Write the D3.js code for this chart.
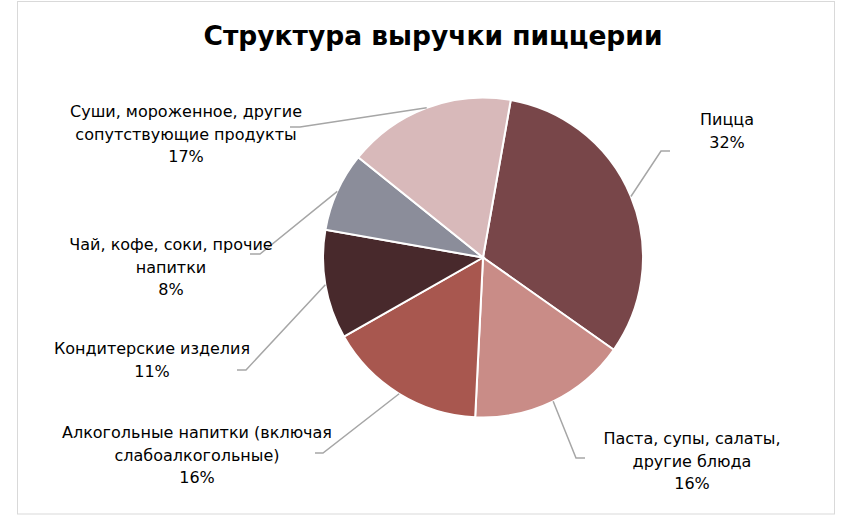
<!DOCTYPE html>
<html>
<head>
<meta charset="utf-8">
<script src="https://cdn.jsdelivr.net/npm/d3@7"></script>
<style>
  body { margin: 0; background: #fff; }
  text { font-family: "DejaVu Sans", sans-serif; }
</style>
</head>
<body>
<div id="chart"></div>
<script>
// data
const categories = [
  "Пицца",
  "Паста, супы, салаты, другие блюда",
  "Алкогольные напитки (включая слабоалкогольные)",
  "Кондитерские изделия",
  "Чай, кофе, соки, прочие напитки",
  "Суши, мороженное, другие сопутствующие продукты"
];
const shares = [32, 16, 16, 11, 8, 17];
// how the label text is broken into lines
const labelLines = [
  ["Пицца"],
  ["Паста, супы, салаты,", "другие блюда"],
  ["Алкогольные напитки (включая", "слабоалкогольные)"],
  ["Кондитерские изделия"],
  ["Чай, кофе, соки, прочие", "напитки"],
  ["Суши, мороженное, другие", "сопутствующие продукты"]
];
const colors = ["#784649", "#C98C87", "#A8574F", "#48292C", "#8B8D9A", "#D8B9BA"];

// label placement: text centre x, first baseline y, elbow of leader, end of leader
const labelPos = [
  {x: 727, y: 125, ex: 661, ey: 151, tx: 670},
  {x: 692, y: 444, ex: 576, ey: 458, tx: 585},
  {x: 197, y: 438, ex: 323, ey: 453, tx: 315},
  {x: 152, y: 354, ex: 246, ey: 370, tx: 237},
  {x: 171, y: 250, ex: 260, ey: 254, tx: 250},
  {x: 186, y: 117, ex: 300, ey: 127, tx: 290}
];

const width = 862, height = 516,
    cx = 483, cy = 257.5,
    radius = 160,
    lineH = 22.5;

const svg = d3.select("#chart")
  .append("svg")
    .attr("width", width)
    .attr("height", height);

// chart frame
svg.append("rect")
    .attr("x", 17.5).attr("y", 1.5)
    .attr("width", 817).attr("height", 512.5)
    .attr("fill", "#fff")
    .attr("stroke", "#D9D9D9")
    .attr("stroke-width", 1);

svg.append("text")
    .attr("x", 433)
    .attr("y", 45)
    .attr("text-anchor", "middle")
    .attr("font-weight", "bold")
    .attr("font-size", 26.5)
    .attr("fill", "#000")
    .text("Структура выручки пиццерии");

const data = categories.map((c, i) => ({name: c, value: shares[i], lines: labelLines[i], color: colors[i], pos: labelPos[i]}));

const startAngle = 10 * Math.PI / 180;
const pie = d3.pie()
    .value(d => d.value)
    .sort(null)
    .startAngle(startAngle)
    .endAngle(startAngle + 2 * Math.PI);

const arcs = pie(data);

const arc = d3.arc()
    .innerRadius(0)
    .outerRadius(radius);

const g = svg.append("g")
    .attr("transform", `translate(${cx},${cy})`);

g.selectAll("path")
  .data(arcs)
  .join("path")
    .attr("d", arc)
    .attr("fill", d => d.data.color)
    .attr("stroke", "#fff")
    .attr("stroke-width", 2);

// leader lines from the slice edge to the label
const edge = d3.arc().innerRadius(radius).outerRadius(radius);
svg.append("g")
  .selectAll("polyline")
  .data(arcs)
  .join("polyline")
    .attr("points", d => {
      const c = edge.centroid(d);
      const p = d.data.pos;
      return [[cx + c[0], cy + c[1]], [p.ex, p.ey], [p.tx, p.ey]].map(q => q.join(",")).join(" ");
    })
    .attr("fill", "none")
    .attr("stroke", "#A6A6A6")
    .attr("stroke-width", 1.5);

// labels
const lab = svg.append("g")
  .selectAll("text")
  .data(arcs)
  .join("text")
    .attr("text-anchor", "middle")
    .attr("font-size", 16)
    .attr("fill", "#000");

lab.each(function(d) {
  const t = d3.select(this);
  const p = d.data.pos;
  const rows = d.data.lines.concat([d3.format(".0%")(d.data.value / d3.sum(shares))]);
  rows.forEach((r, i) => {
    t.append("tspan")
      .attr("x", p.x)
      .attr("y", p.y + i * lineH)
      .text(r);
  });
});
</script>
</body>
</html>
